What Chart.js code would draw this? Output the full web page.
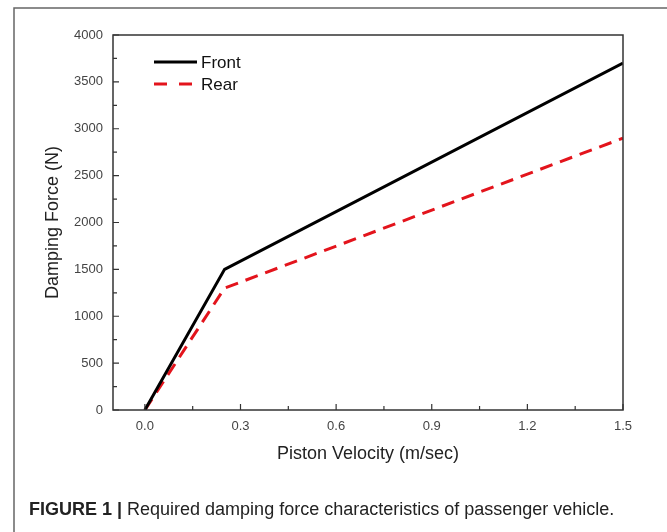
<!DOCTYPE html>
<html>
<head>
<meta charset="utf-8">
<script src="https://cdn.jsdelivr.net/npm/chart.js@4/dist/chart.umd.min.js"></script>
<style>
  html, body { margin: 0; padding: 0; background: #fff; overflow: hidden; }
  #wrap { position: relative; width: 667px; height: 532px; }
</style>
</head>
<body>
<div id="wrap"><canvas id="forceChart"></canvas></div>
<script>
// data
const velocity = [0, 0.25, 1.5];
const frontForce = [0, 1500, 3700];
const rearForce = [0, 1300, 2900];

const xTicks = [0.0, 0.3, 0.6, 0.9, 1.2, 1.5];
const yTicks = [0, 500, 1000, 1500, 2000, 2500, 3000, 3500, 4000];

const caption = 'Required damping force characteristics of passenger vehicle.';

function points(ys) {
  return velocity.map((v, i) => ({ x: v, y: ys[i] }));
}

// inward ticks, plot frame, legend, caption and figure border
const figurePlugin = {
  id: 'figure',
  beforeDraw(chart) {
    const ctx = chart.ctx;
    ctx.save();
    ctx.fillStyle = '#fff';
    ctx.fillRect(0, 0, chart.width, chart.height);
    ctx.restore();
  },
  afterDraw(chart) {
    const ctx = chart.ctx;
    const ca = chart.chartArea;
    const xs = chart.scales.x;
    const ys = chart.scales.y;
    ctx.save();

    // plot box
    ctx.strokeStyle = '#333';
    ctx.lineWidth = 1.5;
    ctx.strokeRect(ca.left, ca.top, ca.right - ca.left, ca.bottom - ca.top);

    // major + minor ticks pointing inside
    ctx.lineWidth = 1.2;
    ctx.beginPath();
    yTicks.forEach((v, i) => {
      const py = ys.getPixelForValue(v);
      ctx.moveTo(ca.left, py); ctx.lineTo(ca.left + 6, py);
      if (i < yTicks.length - 1) {
        const my = ys.getPixelForValue((v + yTicks[i + 1]) / 2);
        ctx.moveTo(ca.left, my); ctx.lineTo(ca.left + 4, my);
      }
    });
    xTicks.forEach((v, i) => {
      const px = xs.getPixelForValue(v);
      ctx.moveTo(px, ca.bottom); ctx.lineTo(px, ca.bottom - 6);
      if (i < xTicks.length - 1) {
        const mx = xs.getPixelForValue((v + xTicks[i + 1]) / 2);
        ctx.moveTo(mx, ca.bottom); ctx.lineTo(mx, ca.bottom - 4);
      }
    });
    ctx.stroke();

    // legend in the upper left of the plot
    ctx.font = '17px Arial, "Liberation Sans", sans-serif';
    ctx.textBaseline = 'middle';
    chart.data.datasets.forEach((ds, i) => {
      const ly = 62 + i * 22;
      ctx.strokeStyle = ds.borderColor;
      ctx.lineWidth = ds.borderWidth;
      ctx.setLineDash(ds.borderDash ? [13, 12] : []);
      ctx.beginPath();
      ctx.moveTo(154, ly); ctx.lineTo(197, ly);
      ctx.stroke();
      ctx.setLineDash([]);
      ctx.fillStyle = '#111';
      ctx.fillText(ds.label, 201, ly + 1);
    });

    // caption
    ctx.fillStyle = '#222';
    ctx.font = 'bold 18px Arial, "Liberation Sans", sans-serif';
    const head = 'FIGURE 1 | ';
    ctx.fillText(head, 29, 510);
    const w = ctx.measureText(head).width;
    ctx.font = '18px Arial, "Liberation Sans", sans-serif';
    ctx.fillText(caption, 29 + w, 510);

    // figure border (left and top only)
    ctx.strokeStyle = '#666';
    ctx.lineWidth = 1.5;
    ctx.beginPath();
    ctx.moveTo(14, chart.height); ctx.lineTo(14, 8); ctx.lineTo(chart.width, 8);
    ctx.stroke();

    ctx.restore();
  }
};

const tickFont = { family: 'Arial, "Liberation Sans", sans-serif', size: 13 };
const titleFont = { family: 'Arial, "Liberation Sans", sans-serif', size: 18 };

const config = {
  type: 'scatter',
  data: {
    datasets: [{
      label: 'Front',
      data: points(frontForce),
      showLine: true,
      borderColor: '#000',
      borderWidth: 3,
      pointRadius: 0
    }, {
      label: 'Rear',
      data: points(rearForce),
      showLine: true,
      borderColor: '#e3141c',
      borderWidth: 3,
      borderDash: [13, 8],
      pointRadius: 0
    }]
  },
  options: {
    responsive: true,
    maintainAspectRatio: false,
    animation: false,
    layout: { padding: { left: 0, top: 35, right: 44, bottom: 62 } },
    plugins: { legend: { display: false }, tooltip: { enabled: false } },
    scales: {
      x: {
        type: 'linear',
        min: -0.1,
        max: 1.5,
        afterBuildTicks: s => { s.ticks = xTicks.map(v => ({ value: v })); },
        afterFit: s => { s.height = 60; },
        ticks: {
          callback: v => v.toFixed(1),
          font: tickFont,
          color: '#444',
          padding: 1,
          maxRotation: 0,
          autoSkip: false
        },
        grid: { display: false },
        border: { display: false },
        title: {
          display: true,
          text: 'Piston Velocity (m/sec)',
          font: titleFont,
          color: '#222',
          padding: { top: 0, bottom: 5 }
        }
      },
      y: {
        min: 0,
        max: 4000,
        afterBuildTicks: s => { s.ticks = yTicks.map(v => ({ value: v })); },
        afterFit: s => { s.width = 113; },
        ticks: {
          callback: v => String(v),
          font: tickFont,
          color: '#444',
          padding: 2,
          autoSkip: false
        },
        grid: { display: false },
        border: { display: false },
        title: {
          display: true,
          text: 'Damping Force (N)',
          font: titleFont,
          color: '#222',
          padding: { top: 42, bottom: 0 }
        }
      }
    }
  },
  plugins: [figurePlugin]
};

const forceChart = new Chart(document.getElementById('forceChart'), config);
</script>
</body>
</html>
